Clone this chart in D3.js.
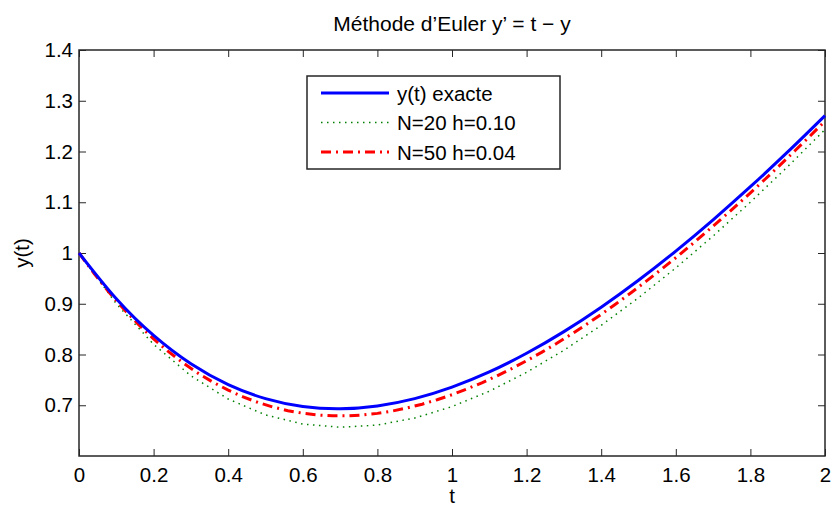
<!DOCTYPE html>
<meta charset="utf-8">
<style>
    body { margin: 0; background: #fff; }
    text { font-family: "Liberation Sans", Arial, sans-serif; fill: #000; }
    .tick line { stroke: #262626; }
</style>
<svg width="832" height="507"></svg>
<script src="https://d3js.org/d3.v7.min.js"></script>
<script>

    // exact solution sampled every 0.1
    var tExact = [0, 0.1, 0.2, 0.3, 0.4, 0.5, 0.6, 0.7, 0.8, 0.9, 1.0,
                  1.1, 1.2, 1.3, 1.4, 1.5, 1.6, 1.7, 1.8, 1.9, 2.0];
    var yExact = [1.0000, 0.9097, 0.8375, 0.7816, 0.7406, 0.7131, 0.6976, 0.6932, 0.6987, 0.7131, 0.7358,
                  0.7657, 0.8024, 0.8451, 0.8932, 0.9463, 1.0038, 1.0654, 1.1306, 1.1991, 1.2707];

    // Euler N=20 (h=0.10), same t grid as above
    var yN20 = [1.0000, 0.9000, 0.8200, 0.7580, 0.7122, 0.6810, 0.6629, 0.6566, 0.6609, 0.6748, 0.6974,
                0.7276, 0.7649, 0.8084, 0.8575, 0.9118, 0.9706, 1.0335, 1.1002, 1.1702, 1.2432];

    // Euler N=50 (h=0.04), t = 0, 0.04, ..., 2
    var yN50 = [1.0000, 0.9600, 0.9232, 0.8895, 0.8587, 0.8307, 0.8055, 0.7829, 0.7628, 0.7451,
                0.7297, 0.7165, 0.7054, 0.6964, 0.6893, 0.6842, 0.6808, 0.6792, 0.6792, 0.6808,
                0.6840, 0.6886, 0.6947, 0.7021, 0.7108, 0.7208, 0.7320, 0.7443, 0.7577, 0.7722,
                0.7877, 0.8042, 0.8216, 0.8400, 0.8592, 0.8792, 0.9000, 0.9216, 0.9440, 0.9670,
                0.9907, 1.0151, 1.0401, 1.0657, 1.0919, 1.1186, 1.1458, 1.1736, 1.2019, 1.2306,
                1.2598];
    var hN50 = 0.04;

    var xTicks = [0, 0.2, 0.4, 0.6, 0.8, 1, 1.2, 1.4, 1.6, 1.8, 2];
    var yTicks = [0.7, 0.8, 0.9, 1, 1.1, 1.2, 1.3, 1.4];

    var legendLabels = ["y(t) exacte", "N=20 h=0.10", "N=50 h=0.04"];

    var svg = d3.select("svg"),
        mLeft = 79, mRight = 825, mTop = 50, mBottom = 456,
        fontSize = "20.5px";

    var x = d3.scaleLinear().domain([0, 2]).range([mLeft, mRight]);
    var y = d3.scaleLinear().domain([0.6, 1.4]).range([mBottom, mTop]);

    var fmt = function(d) { return String(+d.toFixed(1)); };

    // axes, ticks pointing inwards
    svg.append("g")
        .attr("transform", "translate(0," + mBottom + ")")
        .call(d3.axisBottom(x).tickValues(xTicks).tickFormat(fmt).tickSizeInner(-7).tickSizeOuter(0).tickPadding(11))
        .call(function(g) { g.select(".domain").remove(); })
        .selectAll("text").style("font-size", fontSize);

    svg.append("g")
        .attr("transform", "translate(0," + mTop + ")")
        .call(d3.axisTop(x).tickValues(xTicks).tickFormat("").tickSizeInner(-7).tickSizeOuter(0))
        .call(function(g) { g.select(".domain").remove(); });

    svg.append("g")
        .attr("transform", "translate(" + mLeft + ",0)")
        .call(d3.axisLeft(y).tickValues(yTicks).tickFormat(fmt).tickSizeInner(-7).tickSizeOuter(0).tickPadding(6))
        .call(function(g) { g.select(".domain").remove(); })
        .selectAll("text").style("font-size", fontSize);

    svg.append("g")
        .attr("transform", "translate(" + mRight + ",0)")
        .call(d3.axisRight(y).tickValues(yTicks).tickFormat("").tickSizeInner(-7).tickSizeOuter(0))
        .call(function(g) { g.select(".domain").remove(); });

    svg.append("rect")
        .attr("x", mLeft).attr("y", mTop)
        .attr("width", mRight - mLeft).attr("height", mBottom - mTop)
        .attr("fill", "none").attr("stroke", "#262626").attr("stroke-width", 1.5);

    // curves
    var plot = svg.append("g");

    plot.append("path")
        .datum(yN20)
        .attr("fill", "none")
        .attr("stroke", "#008000")
        .attr("stroke-width", 1.5)
        .attr("stroke-dasharray", "1.5,4.5")
        .attr("d", d3.line()
            .x(function(d, i) { return x(tExact[i]); })
            .y(function(d) { return y(d); }));

    plot.append("path")
        .datum(yN50)
        .attr("fill", "none")
        .attr("stroke", "#ff0000")
        .attr("stroke-width", 3)
        .attr("stroke-dasharray", "10,5,2,5")
        .attr("d", d3.line()
            .x(function(d, i) { return x(i * hN50); })
            .y(function(d) { return y(d); }));

    plot.append("path")
        .datum(yExact)
        .attr("fill", "none")
        .attr("stroke", "#0000ff")
        .attr("stroke-width", 3)
        .attr("d", d3.line()
            .curve(d3.curveNatural)
            .x(function(d, i) { return x(tExact[i]); })
            .y(function(d) { return y(d); }));

    // title and axis labels
    svg.append("text")
        .attr("x", (mLeft + mRight) / 2).attr("y", 31)
        .attr("text-anchor", "middle")
        .style("font-size", "21px")
        .text("Méthode d’Euler y’ = t − y");

    svg.append("text")
        .attr("x", (mLeft + mRight) / 2).attr("y", 503)
        .attr("text-anchor", "middle")
        .style("font-size", fontSize)
        .text("t");

    svg.append("text")
        .attr("transform", "translate(29," + ((mTop + mBottom) / 2) + ") rotate(-90)")
        .attr("text-anchor", "middle")
        .style("font-size", fontSize)
        .text("y(t)");

    // legend
    var legend = svg.append("g").attr("class", "legend");
    legend.append("rect")
        .attr("x", 307).attr("y", 76)
        .attr("width", 253).attr("height", 93)
        .attr("fill", "#fff").attr("stroke", "#262626").attr("stroke-width", 1.5);

    var legendStyles = [
        { stroke: "#0000ff", width: 3, dash: null },
        { stroke: "#008000", width: 1.5, dash: "1.5,4.5" },
        { stroke: "#ff0000", width: 3, dash: "10,5,2,5" }
    ];

    legendLabels.forEach(function(label, i) {
        var ly = 93 + i * 29.5;
        legend.append("line")
            .attr("x1", 321).attr("x2", 389)
            .attr("y1", ly).attr("y2", ly)
            .attr("stroke", legendStyles[i].stroke)
            .attr("stroke-width", legendStyles[i].width)
            .attr("stroke-dasharray", legendStyles[i].dash);
        legend.append("text")
            .attr("x", 397).attr("y", ly + 7.5)
            .style("font-size", fontSize)
            .text(label);
    });

</script>
